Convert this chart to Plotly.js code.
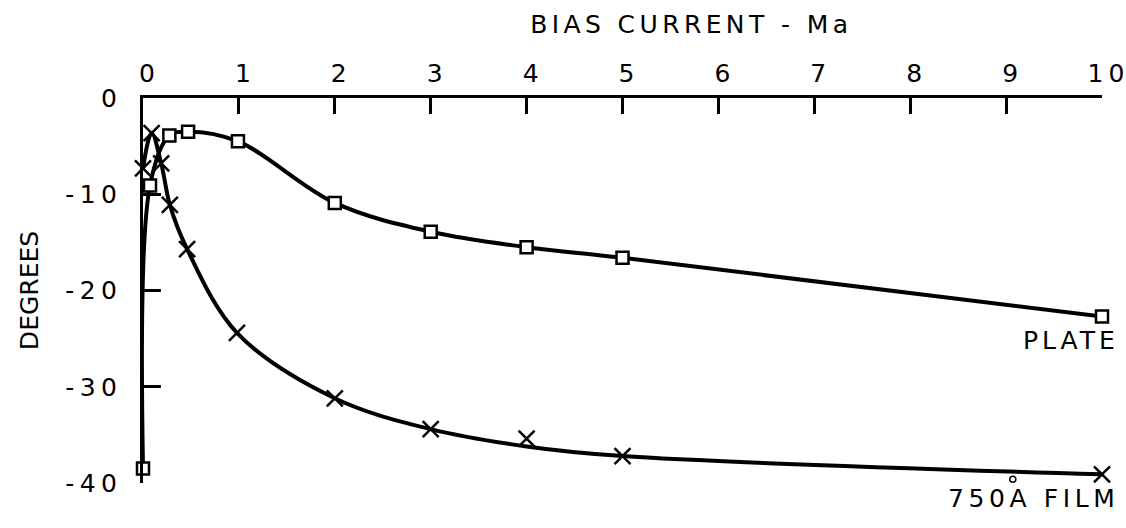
<!DOCTYPE html>
<html>
<head>
<meta charset="utf-8">
<script src="https://cdn.plot.ly/plotly-3.0.1.min.js"></script>
<style>
  html, body { margin: 0; padding: 0; background: #fff; }
  #chart { width: 1126px; height: 528px; }
</style>
</head>
<body>
<div id="chart"></div>
<script>
// Bias current (mA) and phase shift (degrees)
const plateCurrent = [0, 0.073, 0.275, 0.47, 0.99, 2, 3, 4, 5, 10];
const plateDegrees = [-38.5, -9.1, -3.9, -3.5, -4.5, -10.9, -13.9, -15.5, -16.6, -22.7];

// measured film points
const filmCurrent = [0, 0.09, 0.19, 0.28, 0.46, 0.98, 2, 3, 4, 5, 10];
const filmDegrees = [-7.3, -3.65, -6.8, -11.1, -15.7, -24.4, -31.2, -34.4, -35.4, -37.2, -39.1];
// hand-faired curve through the film points (passes under the 4 mA reading)
const filmCurveDegrees = [-7.3, -3.65, -6.8, -11.1, -15.7, -24.4, -31.2, -34.4, -36.2, -37.2, -39.1];

// single stray open-circle reading near 9 mA
const extraCurrent = [9.07];
const extraDegrees = [-39.6];

const xTickVals = [0, 1, 2, 3, 4, 5, 6, 7, 8, 9, 10];
const xTickText = ['0', '1', '2', '3', '4', '5', '6', '7', '8', '9', '10'];
const yTickVals = [-40, -30, -20, -10, 0];
const yTickText = ['-40', '-30', '-20', '-10', '0'];

const FONT = 'DejaVu Sans, sans-serif';
const FS = 25;
// widen the gaps between letters (not after the last one)
const spaced = (s, px) => s.length < 2 ? s
  : '<span style="letter-spacing:' + px + 'px">' + s.slice(0, -1) + '</span>' + s.slice(-1);

const traces = [
  {
    x: plateCurrent, y: plateDegrees, mode: 'lines+markers', cliponaxis: false,
    line: { color: '#000', width: 4, shape: 'spline', smoothing: 1 },
    marker: { symbol: 'square', size: 12, color: '#fff', line: { color: '#000', width: 2.5 } },
    showlegend: false, hoverinfo: 'skip'
  },
  {
    x: filmCurrent, y: filmCurveDegrees, mode: 'lines', cliponaxis: false,
    line: { color: '#000', width: 4, shape: 'spline', smoothing: 1 },
    showlegend: false, hoverinfo: 'skip'
  },
  {
    x: filmCurrent, y: filmDegrees, mode: 'markers', cliponaxis: false,
    marker: { symbol: 'x-thin-open', size: 16, color: '#000', line: { color: '#000', width: 2.5 } },
    showlegend: false, hoverinfo: 'skip'
  },
  {
    x: extraCurrent, y: extraDegrees, mode: 'markers', cliponaxis: false,
    marker: { symbol: 'circle-open', size: 6, color: '#000', line: { color: '#000', width: 1.5 } },
    showlegend: false, hoverinfo: 'skip'
  }
];

const layout = {
  width: 1126, height: 528,
  paper_bgcolor: '#fff', plot_bgcolor: '#fff',
  margin: { l: 143, r: 24, t: 98, b: 45 },
  font: { family: FONT, size: FS, color: '#000' },
  title: {
    text: spaced('BIAS CURRENT - Ma', 4.4),
    font: { family: FONT, size: FS, color: '#000' },
    x: 0.612, xanchor: 'center', y: 0.955, yanchor: 'middle'
  },
  xaxis: {
    side: 'top', range: [0, 10], fixedrange: true,
    tickmode: 'array', tickvals: xTickVals, ticktext: xTickText.map(t => spaced(t, 5)),
    ticks: 'inside', ticklen: 16, tickwidth: 3, tickcolor: '#000',
    showline: true, linewidth: 3, linecolor: '#000',
    showgrid: false, zeroline: false,
    ticklabelstandoff: 3, ticklabelshift: 4, ticklabeloverflow: 'allow',
    tickfont: { family: FONT, size: FS, color: '#000' }
  },
  yaxis: {
    range: [-40, 0], fixedrange: true,
    tickmode: 'array', tickvals: yTickVals, ticktext: yTickText.map(t => spaced(t, 5.5)),
    ticks: 'inside', ticklen: 18, tickwidth: 3, tickcolor: '#000',
    showline: true, linewidth: 3, linecolor: '#000',
    showgrid: false, zeroline: false,
    ticklabelstandoff: 18, ticklabelshift: 0, ticklabeloverflow: 'allow',
    tickfont: { family: FONT, size: FS, color: '#000' },
    title: { text: 'DEGREES', font: { family: FONT, size: FS, color: '#000' }, standoff: 20 }
  },
  annotations: [
    { x: 1.0156, y: 0.37, xref: 'paper', yref: 'paper', text: spaced('PLATE', 4), showarrow: false,
      xanchor: 'right', yanchor: 'middle', font: { family: FONT, size: FS, color: '#000' } },
    { x: 1.0156, y: -0.039, xref: 'paper', yref: 'paper', text: spaced('750A FILM', 4.6), showarrow: false,
      xanchor: 'right', yanchor: 'middle', font: { family: FONT, size: FS, color: '#000' } }
  ]
};

Plotly.newPlot('chart', traces, layout, { staticPlot: true, displayModeBar: false });
</script>
</body>
</html>
